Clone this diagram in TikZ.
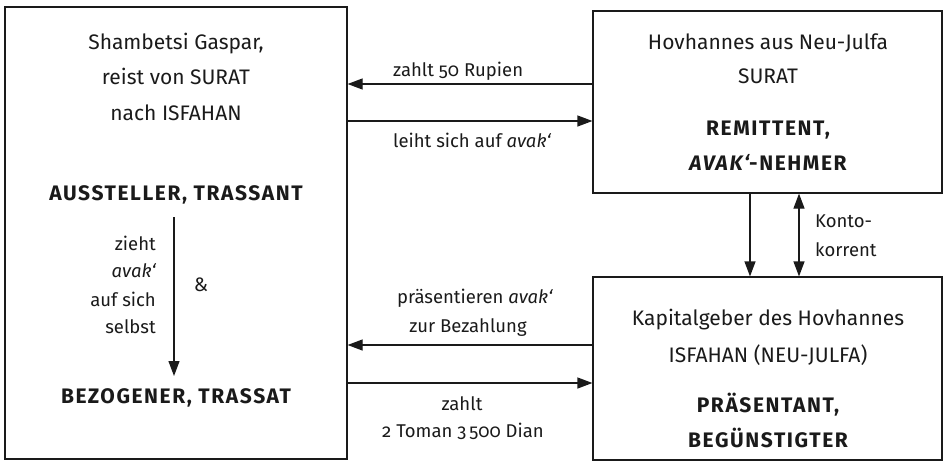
\documentclass[tikz,border=0pt]{standalone}
\usepackage{fontspec}
\setmainfont{Fira Sans}[Numbers=OldStyle]
\usetikzlibrary{arrows.meta}
\definecolor{ink}{HTML}{1A1A1A}
\begin{document}
\begin{tikzpicture}[x=1pt,y=-1pt,
  box/.style={draw=ink,line width=1.2pt,inner sep=0pt},
  txt/.style={inner sep=0pt,anchor=base,text=ink,font=\fontsize{21}{24}\selectfont},
  bold/.style={txt,font=\fontsize{21}{24}\selectfont\bfseries\addfontfeatures{LetterSpace=7.5}},
  lab/.style={inner sep=0pt,anchor=base,text=ink,font=\fontsize{18.5}{22}\selectfont},
  labl/.style={lab,anchor=base west},
  labr/.style={lab,anchor=base east},
  tip/.tip={Triangle[length=15pt,width=11pt]},
  arr/.style={draw=ink,line width=1.2pt,-tip},
  darr/.style={draw=ink,line width=1.2pt,tip-tip}]
\useasboundingbox (0,0) rectangle (944,461);
% boxes
\node[box,minimum width=342pt,minimum height=452pt] (L) at (176,233) {};
\node[box,minimum width=349pt,minimum height=182pt] (T) at (767.5,102) {};
\node[box,minimum width=349pt,minimum height=183pt] (B) at (767.5,368.5) {};
% left box text
\node[txt] (l1) at (176,49) {Shambetsi Gaspar,};
\node[txt] (l2) at (176,84) {reist von SURAT};
\node[txt] (l3) at (176,120) {nach ISFAHAN};
\node[bold] (l4) at (176,200) {AUSSTELLER, TRASSANT};
\node[bold] (l5) at (176,403) {BEZOGENER, TRASSAT};
\node[labr] (z1) at (156,250) {zieht};
\node[labr] (z2) at (156,277) {\itshape avak‘};
\node[labr] (z3) at (156,306) {auf sich};
\node[labr] (z4) at (156,333) {selbst};
\node[lab,font=\fontsize{19.5}{22}\selectfont] (amp) at (201,291) {\&};
\coordinate (a1) at (174,217);
\coordinate (a2) at (174,376);
\draw[arr] (a1) -- (a2);
% top right text
\node[txt] (t1) at (768,49) {Hovhannes aus Neu-Julfa};
\node[txt] (t2) at (768,83.5) {SURAT};
\node[bold] (t3) at (768,135) {REMITTENT,};
\node[bold] (t4) at (768,170) {\itshape AVAK‘\upshape-NEHMER};
% bottom right text
\node[txt] (b1) at (768,325) {Kapitalgeber des Hovhannes};
\node[txt] (b2) at (768,362) {ISFAHAN (NEU-JULFA)};
\node[bold] (b3) at (768,412) {PRÄSENTANT,};
\node[bold] (b4) at (768,447) {BEGÜNSTIGTER};
% horizontal arrows
\coordinate (y1) at (0,84);
\coordinate (y2) at (0,121);
\coordinate (y3) at (0,345);
\coordinate (y4) at (0,383);
\draw[arr] (T.west |- y1) -- (L.east |- y1);
\draw[arr] (L.east |- y2) -- (T.west |- y2);
\draw[arr] (B.west |- y3) -- (L.east |- y3);
\draw[arr] (L.east |- y4) -- (B.west |- y4);
\node[labl] (h1) at (393,76) {zahlt 50 Rupien};
\node[labl] (h2) at (393,147) {leiht sich auf \textit{avak‘}};
\node[lab] (h3) at (475,303) {präsentieren \textit{avak‘}};
\node[lab] (h4) at (468,332) {zur Bezahlung};
\node[lab] (h5) at (462,410) {zahlt};
\node[lab] (h6) at (463,437) {2 Toman 3\,500 Dian};
% vertical arrows
\coordinate (x1) at (750,0);
\coordinate (x2) at (799,0);
\draw[arr] (T.south -| x1) -- (B.north -| x1);
\draw[darr] (T.south -| x2) -- (B.north -| x2);
\node[labl] (k1) at (815,227) {Konto-};
\node[labl] (k2) at (815,256) {korrent};
\end{tikzpicture}
\end{document}
